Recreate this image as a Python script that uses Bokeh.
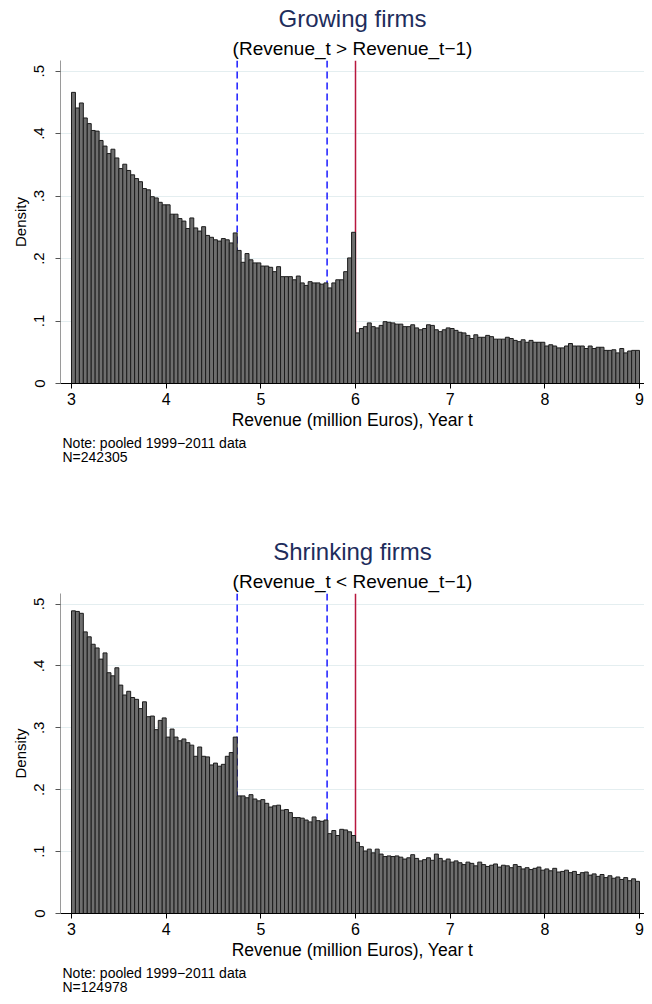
from bokeh.plotting import figure
from bokeh.layouts import column
from bokeh.models import Span, Title, FixedTicker, Range1d
from bokeh.embed import file_html
from bokeh.resources import INLINE

# ---------------- data ----------------
bin_start = 3.0
bin_width = 1.0 / 24

growing_density = [
    0.466, 0.441, 0.449, 0.425, 0.416, 0.405, 0.404, 0.389, 0.380, 0.368,
    0.375, 0.361, 0.344, 0.351, 0.341, 0.334, 0.328, 0.323, 0.312, 0.310,
    0.299, 0.297, 0.290, 0.286, 0.286, 0.271, 0.271, 0.264, 0.260, 0.248,
    0.265, 0.249, 0.244, 0.251, 0.237, 0.234, 0.230, 0.228, 0.232, 0.230,
    0.225, 0.241,
    0.213, 0.194, 0.208, 0.198, 0.193, 0.193, 0.188, 0.188, 0.186, 0.179,
    0.187, 0.171, 0.171, 0.171, 0.166, 0.172, 0.161, 0.157, 0.163, 0.161,
    0.161, 0.159, 0.161, 0.153, 0.161, 0.166, 0.166, 0.179, 0.201, 0.242,
    0.081, 0.088, 0.091, 0.097, 0.091, 0.089, 0.093, 0.099, 0.098, 0.097,
    0.095, 0.095, 0.091, 0.091, 0.094, 0.089, 0.086, 0.088, 0.094, 0.093,
    0.086, 0.083, 0.086, 0.089, 0.088, 0.085, 0.082, 0.081, 0.077, 0.072,
    0.078, 0.074, 0.074, 0.077, 0.075, 0.071, 0.071, 0.071, 0.074, 0.072,
    0.069, 0.067, 0.070, 0.066, 0.069, 0.066, 0.066, 0.066, 0.060, 0.062,
    0.060, 0.057, 0.057, 0.060, 0.064, 0.060, 0.060, 0.060, 0.056, 0.060,
    0.056, 0.058, 0.058, 0.053, 0.053, 0.054, 0.049, 0.056, 0.049, 0.052,
    0.053, 0.053,
]

shrinking_density = [
    0.489, 0.488, 0.485, 0.455, 0.447, 0.435, 0.429, 0.411, 0.421, 0.389,
    0.384, 0.397, 0.369, 0.353, 0.359, 0.349, 0.346, 0.331, 0.342, 0.318,
    0.319, 0.297, 0.312, 0.316, 0.285, 0.298, 0.285, 0.279, 0.282, 0.276,
    0.272, 0.254, 0.269, 0.254, 0.253, 0.240, 0.243, 0.238, 0.241, 0.254,
    0.260, 0.285,
    0.190, 0.190, 0.187, 0.192, 0.185, 0.182, 0.184, 0.178, 0.172, 0.174,
    0.175, 0.167, 0.168, 0.163, 0.155, 0.155, 0.154, 0.151, 0.148, 0.156,
    0.150, 0.149, 0.151, 0.129, 0.134, 0.126, 0.136, 0.135, 0.132, 0.126,
    0.115, 0.108, 0.101, 0.104, 0.098, 0.104, 0.096, 0.092, 0.093, 0.092,
    0.093, 0.091, 0.088, 0.090, 0.095, 0.089, 0.085, 0.087, 0.090, 0.086,
    0.096, 0.089, 0.085, 0.088,
    0.083, 0.085, 0.082, 0.079, 0.083, 0.081, 0.077, 0.083, 0.079, 0.076,
    0.078, 0.080, 0.075, 0.078, 0.077, 0.074, 0.079, 0.076, 0.072, 0.074,
    0.071, 0.073, 0.075, 0.070,
    0.072, 0.069, 0.073, 0.067, 0.068, 0.070, 0.066, 0.068, 0.063, 0.066,
    0.067, 0.062, 0.064, 0.060, 0.063, 0.058, 0.061, 0.057, 0.059, 0.055,
    0.058, 0.053, 0.056, 0.052,
]

dashed_cutoffs = [4.75, 5.7]
solid_cutoffs = [6.0]

x_tick_values = [3, 4, 5, 6, 7, 8, 9]
y_tick_values = [0, 0.1, 0.2, 0.3, 0.4, 0.5]
y_tick_labels = ["0", ".1", ".2", ".3", ".4", ".5"]

panel_titles = ["Growing firms", "Shrinking firms"]
panel_subtitles = ["(Revenue_t > Revenue_t\u22121)", "(Revenue_t < Revenue_t\u22121)"]
panel_notes = ["Note: pooled 1999\u22122011 data", "Note: pooled 1999\u22122011 data"]
panel_counts = ["N=242305", "N=124978"]
x_title = "Revenue (million Euros), Year t"
y_title = "Density"

# ---------------- styling / layout ----------------
FONT = "Liberation Sans"
FIG_W = 644
BORDER_L = 60
X0, X1 = 2.8838, 9.0528
Y_END = 0.517
TITLE_COLOR = "#1e2d5c"
BAR_FILL = "#6e6e6e"
BAR_LINE = "#1c1c1c"
BLUE = "#1a1aff"
RED = "#b8173e"


def make_panel(values, title, subtitle, note, count, height, top, frame_h):
    bottom = height - top - frame_h
    p = figure(width=FIG_W, height=height, output_backend="svg",
               toolbar_location=None,
               x_range=Range1d(X0, X1), y_range=Range1d(0, Y_END),
               min_border_left=BORDER_L, min_border_right=0,
               min_border_top=top, min_border_bottom=bottom)
    p.title.visible = False
    p.outline_line_color = None
    p.background_fill_color = "white"
    p.border_fill_color = "white"

    lefts = [bin_start + i * bin_width for i in range(len(values))]
    rights = [l + bin_width for l in lefts]

    for c in dashed_cutoffs:
        p.add_layout(Span(location=c, dimension="height", line_color=BLUE,
                          line_dash="7 4", line_width=1.5, level="underlay"))
    for c in solid_cutoffs:
        p.add_layout(Span(location=c, dimension="height", line_color=RED,
                          line_width=1.5, level="underlay"))

    p.quad(left=lefts, right=rights, bottom=0, top=values,
           fill_color=BAR_FILL, line_color=BAR_LINE, line_width=1)

    # axes
    p.xaxis.ticker = FixedTicker(ticks=x_tick_values)
    p.yaxis.ticker = FixedTicker(ticks=y_tick_values)
    p.yaxis.major_label_overrides = {v: s for v, s in zip(y_tick_values, y_tick_labels)}
    p.yaxis.major_label_orientation = "vertical"
    p.xaxis.minor_tick_line_color = None
    p.yaxis.minor_tick_line_color = None
    for ax in (p.xaxis, p.yaxis):
        ax.major_tick_out = 5
        ax.major_tick_in = 0
        ax.major_label_text_font = FONT
        ax.major_label_text_color = "black"
        ax.axis_label_text_font = FONT
        ax.axis_label_text_font_style = "normal"
        ax.axis_label_text_color = "black"
    p.xaxis.axis_line_color = "black"
    p.xaxis.major_tick_line_color = "black"
    p.yaxis.axis_line_color = "#9a9a9a"
    p.yaxis.major_tick_line_color = "#555555"
    p.xaxis.major_label_text_font_size = "16px"
    p.yaxis.major_label_text_font_size = "15px"
    p.xaxis.major_label_standoff = 4
    p.yaxis.major_label_standoff = 11
    p.xaxis.axis_label = x_title
    p.yaxis.axis_label = y_title
    p.xaxis.axis_label_text_font_size = "17.5px"
    p.yaxis.axis_label_text_font_size = "15px"
    p.xaxis.axis_label_standoff = 2
    p.yaxis.axis_label_standoff = 3

    p.xgrid.visible = False
    p.ygrid.grid_line_color = "#e4eef0"
    p.ygrid.grid_line_width = 1

    # titles (closest to the frame first)
    p.add_layout(Title(text=subtitle, align="center", offset=8, standoff=3,
                       text_font=FONT, text_font_size="19px",
                       text_font_style="normal", text_color="black"), "above")
    p.add_layout(Title(text=title, align="center", offset=8, standoff=5,
                       text_font=FONT, text_font_size="24px",
                       text_font_style="normal", text_color=TITLE_COLOR), "above")
    # notes below the x axis (two lines in one block)
    p.add_layout(Title(text=note + "\n" + count, align="left", offset=2,
                       standoff=2, text_line_height=0.9,
                       text_font=FONT, text_font_size="14px",
                       text_font_style="normal", text_color="black"), "below")
    return p


p1 = make_panel(growing_density, panel_titles[0], panel_subtitles[0],
                panel_notes[0], panel_counts[0], height=530, top=59, frame_h=324)
p2 = make_panel(shrinking_density, panel_titles[1], panel_subtitles[1],
                panel_notes[1], panel_counts[1], height=466, top=63, frame_h=325)

layout = column(p1, p2, spacing=0)
open("out.html", "w").write(file_html(layout, INLINE))
